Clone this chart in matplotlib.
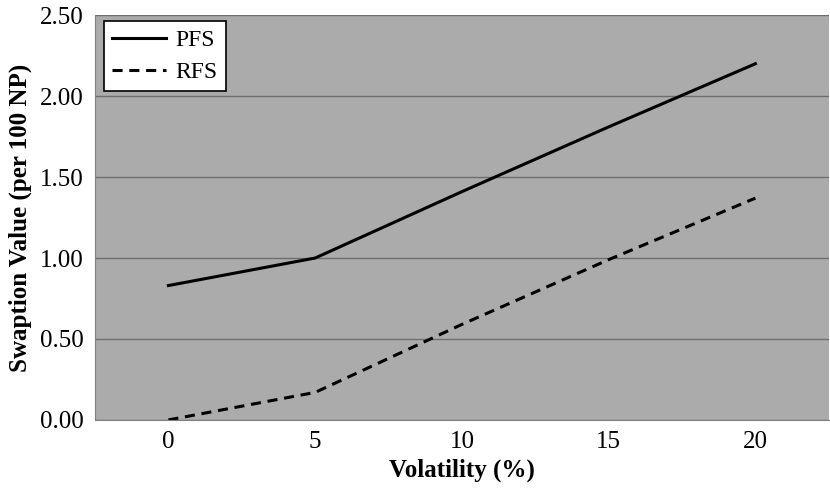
import matplotlib.pyplot as plt

# 변동성 별 스왑션 가치
volatility = [0, 5, 10, 15, 20]
pfs = [0.83, 1.00, 1.41, 1.81, 2.20]
rfs = [0.00, 0.17, 0.59, 0.99, 1.37]
yTicks = [0.0, 0.5, 1.0, 1.5, 2.0, 2.5]

plt.rcParams['font.family'] = ['Liberation Serif', 'DejaVu Serif']

fig = plt.figure(figsize=(8.3, 4.9), dpi=100, facecolor='white')
ax = fig.add_axes([0.1145, 0.143, 0.884, 0.826])
ax.set_facecolor('#ababab')

ax.plot(volatility, pfs, color='black', lw=2.2, label='PFS')
ax.plot(volatility, rfs, color='black', lw=2.2, ls=(0, (3.3, 2.2)), label='RFS')

ax.set_xlim(-2.5, 22.5)
ax.set_ylim(0, 2.5)
ax.set_xticks(volatility)
ax.set_yticks(yTicks)
ax.set_yticklabels(["%.2f" % v for v in yTicks])
ax.yaxis.grid(True, color='#6e6e6e', lw=1)
ax.set_axisbelow(True)
ax.tick_params(labelsize=18, length=0, pad=8)

for side in ['top', 'right']:
    ax.spines[side].set_visible(False)
for side in ['left', 'bottom']:
    ax.spines[side].set_color('#808080')

ax.set_xlabel('Volatility (%)', fontsize=18, fontweight='bold', labelpad=4)
ax.set_ylabel('Swaption Value (per 100 NP)', fontsize=18, fontweight='bold', labelpad=6)

leg = ax.legend(loc='upper left', fontsize=17, frameon=True, fancybox=False,
                edgecolor='black', framealpha=1, handlelength=2.3,
                bbox_to_anchor=(0.012, 0.985), borderaxespad=0,
                labelspacing=0.45, borderpad=0.35, handletextpad=0.4)
leg.get_frame().set_linewidth(1.2)

plt.savefig('out.png', dpi=100)
